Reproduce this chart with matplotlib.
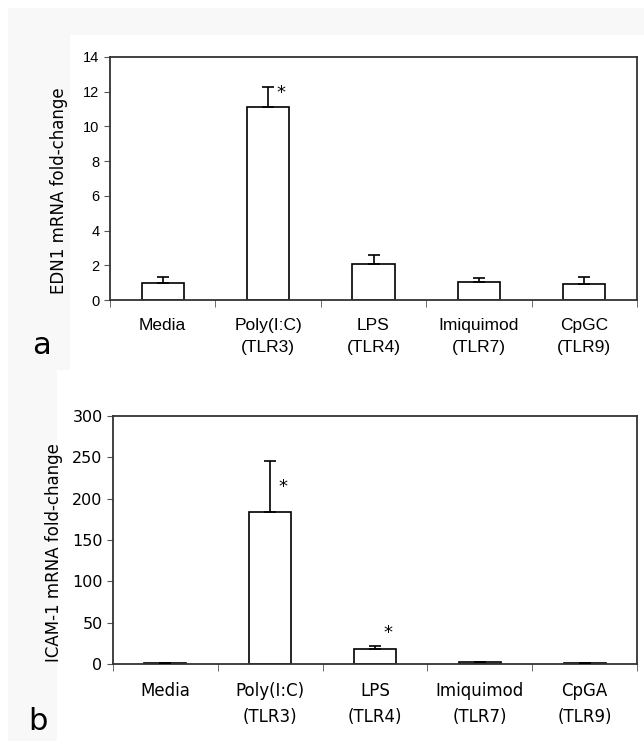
import numpy as np
import matplotlib.pyplot as plt
from matplotlib.patches import Rectangle

# panel a data
labels_a = ["Media", "Poly(I:C)\n(TLR3)", "LPS\n(TLR4)", "Imiquimod\n(TLR7)", "CpGC\n(TLR9)"]
edn1 = [1.0, 11.1, 2.1, 1.05, 0.9]
edn1_err = [0.3, 1.2, 0.5, 0.2, 0.4]
stars_a = [(1, 11.9)]

# panel b data
labels_b = ["Media", "Poly(I:C)\n(TLR3)", "LPS\n(TLR4)", "Imiquimod\n(TLR7)", "CpGA\n(TLR9)"]
icam1 = [1.0, 184, 18, 2.0, 1.0]
icam1_err = [0.3, 61, 4, 0.5, 0.3]
stars_b = [(1, 214), (2, 37)]

W, H = 644, 741
fig = plt.figure(figsize=(W / 100, H / 100), dpi=100, facecolor='white')
# faint grey page border left/top of the charts
grey = '#f8f8f8'
for x0, y0, x1, y1 in [(8, 8, 644, 35), (8, 35, 70, 370), (8, 370, 57, 741)]:
    fig.patches.append(Rectangle((x0 / W, 1 - y1 / H), (x1 - x0) / W, (y1 - y0) / H,
                                 transform=fig.transFigure, facecolor=grey,
                                 edgecolor='none', zorder=-1))

def panel(ax, vals, errs, labels, stars, ylabel, ymax, ystep, font, lab_size, tick_size):
    x = np.arange(len(vals))
    ax.bar(x, vals, width=0.4, color='white', edgecolor='black', linewidth=1.2, zorder=2)
    ax.errorbar(x, vals, yerr=[np.zeros(len(vals)), errs], fmt='none', ecolor='black',
                elinewidth=1.2, capsize=4, capthick=1.2, zorder=3)
    for i, y in stars:
        ax.text(i + 0.12, y, '*', ha='center', va='center', fontsize=13, family='DejaVu Sans')
    ax.set_xlim(-0.5, len(vals) - 0.5)
    ax.set_ylim(0, ymax)
    ax.set_yticks(np.arange(0, ymax + 1, ystep))
    ax.set_xticks(x)
    ax.set_xticklabels(labels, family=font, fontsize=lab_size, linespacing=1.55)
    ax.set_xticks(np.arange(-0.5, len(vals), 1), minor=True)
    ax.tick_params(axis='x', which='major', length=0, pad=13)
    ax.tick_params(axis='x', which='minor', length=5, color='#555555', direction='out')
    ax.tick_params(axis='y', length=4, color='#555555', direction='out', labelsize=tick_size)
    for t in ax.get_yticklabels():
        t.set_family(font)
    for s in ax.spines.values():
        s.set_color('#333333')
        s.set_linewidth(1.3)
    ax.set_ylabel(ylabel, family='DejaVu Sans', fontsize=12)

ax1 = fig.add_axes([110 / W, 1 - 300 / H, 527 / W, 243 / H])
panel(ax1, edn1, edn1_err, labels_a, stars_a, "EDN1 mRNA fold-change", 14, 2,
      'Liberation Sans', 12.5, 10.5)
ax1.yaxis.set_label_coords(-42 / 527, 0.45)

ax2 = fig.add_axes([113 / W, 1 - 664 / H, 524 / W, 248 / H])
panel(ax2, icam1, icam1_err, labels_b, stars_b, "ICAM-1 mRNA fold-change", 300, 50,
      'DejaVu Sans', 12, 11.5)
ax2.yaxis.set_label_coords(-50 / 524, 0.45)

fig.text(41 / W, 1 - 345 / H, 'a', fontsize=22, ha='center', va='center', family='DejaVu Sans')
fig.text(38 / W, 1 - 721 / H, 'b', fontsize=22, ha='center', va='center', family='DejaVu Sans')

fig.savefig('out.png', dpi=100, facecolor=fig.get_facecolor())
